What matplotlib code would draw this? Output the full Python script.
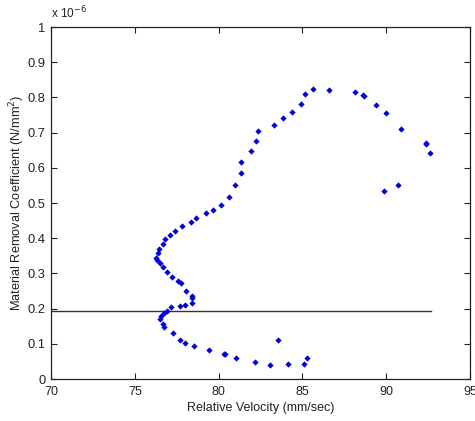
import matplotlib
matplotlib.use("Agg")
import matplotlib.pyplot as plt
import numpy as np

plt.rcParams['font.family'] = ['Liberation Sans', 'DejaVu Sans']

# Relative velocity (mm/sec)
velocity = [85.26, 85.11, 84.16, 83.53, 83.07, 82.20, 81.01, 80.32, 80.40, 79.41,
            78.53, 77.98, 77.70, 77.30, 76.74, 76.66, 76.50, 76.55, 76.74, 76.90,
            77.16, 77.70, 78.00, 78.39, 78.43, 78.43, 78.05, 77.74, 77.56, 77.24,
            76.94, 76.66, 76.50, 76.34, 76.26, 76.38, 76.46, 76.66, 76.82, 77.10,
            77.42, 77.83, 78.35, 78.68, 79.22, 79.68, 80.16, 80.64, 81.00, 81.35,
            81.32, 81.92, 82.25, 82.37, 83.31, 83.86, 84.40, 84.93, 85.17, 85.63,
            86.61, 88.14, 88.60, 88.69, 89.41, 90.01, 90.88, 92.39, 92.39, 92.63,
            89.85, 90.69]
# Material removal coefficient (x 1e-6 N/mm^2)
coefficient = [0.059, 0.042, 0.042, 0.112, 0.041, 0.047, 0.059, 0.071, 0.071, 0.082,
               0.094, 0.102, 0.112, 0.132, 0.147, 0.157, 0.170, 0.179, 0.1875, 0.193,
               0.205, 0.208, 0.210, 0.217, 0.229, 0.236, 0.250, 0.273, 0.278, 0.290,
               0.305, 0.317, 0.329, 0.338, 0.345, 0.358, 0.370, 0.384, 0.399, 0.408,
               0.420, 0.434, 0.445, 0.457, 0.472, 0.480, 0.494, 0.516, 0.552, 0.586,
               0.617, 0.648, 0.677, 0.704, 0.721, 0.741, 0.759, 0.780, 0.810, 0.824,
               0.820, 0.815, 0.806, 0.803, 0.779, 0.755, 0.709, 0.670, 0.667, 0.642,
               0.533, 0.551]
threshold = 0.194
threshold_x = [70, 92.67]

x_ticks = [70, 75, 80, 85, 90, 95]
y_ticks = [0, 0.1, 0.2, 0.3, 0.4, 0.5, 0.6, 0.7, 0.8, 0.9, 1]
y_ticklabels = ['0', '0.1', '0.2', '0.3', '0.4', '0.5', '0.6', '0.7', '0.8', '0.9', '1']

fig = plt.figure(figsize=(4.75, 4.21), dpi=100)
ax = fig.add_axes([51/475, 42/421, 419/475, 352/421])

ax.plot(threshold_x, [threshold, threshold], color='#333333', lw=1.0)
ax.plot(velocity, coefficient, linestyle='none', marker='D', markersize=3.2,
        color='#0000dd', markeredgewidth=0)

ax.set_xlim(70, 95)
ax.set_ylim(0, 1)
ax.set_xticks(x_ticks)
ax.set_yticks(y_ticks)
ax.set_yticklabels(y_ticklabels)
ax.tick_params(direction='in', top=True, right=True, length=4, width=0.8,
               colors='#222222')
ax.tick_params(axis='x', pad=5, labelsize=9)
ax.tick_params(axis='y', pad=4, labelsize=9.3)
for s in ax.spines.values():
    s.set_color('#222222')
    s.set_linewidth(0.9)

ax.set_xlabel('Relative Velocity (mm/sec)', fontsize=9, color='#222222', labelpad=3)
ax.set_ylabel('Material Removal Coefficient (N/mm$^2$)', fontsize=9.2, color='#222222', labelpad=0)
ax.text(0.0, 1.015, r'x 10$^{-6}$', transform=ax.transAxes, fontsize=8.5, color='#222222',
        ha='left', va='bottom')

fig.savefig('out.png', dpi=100)
